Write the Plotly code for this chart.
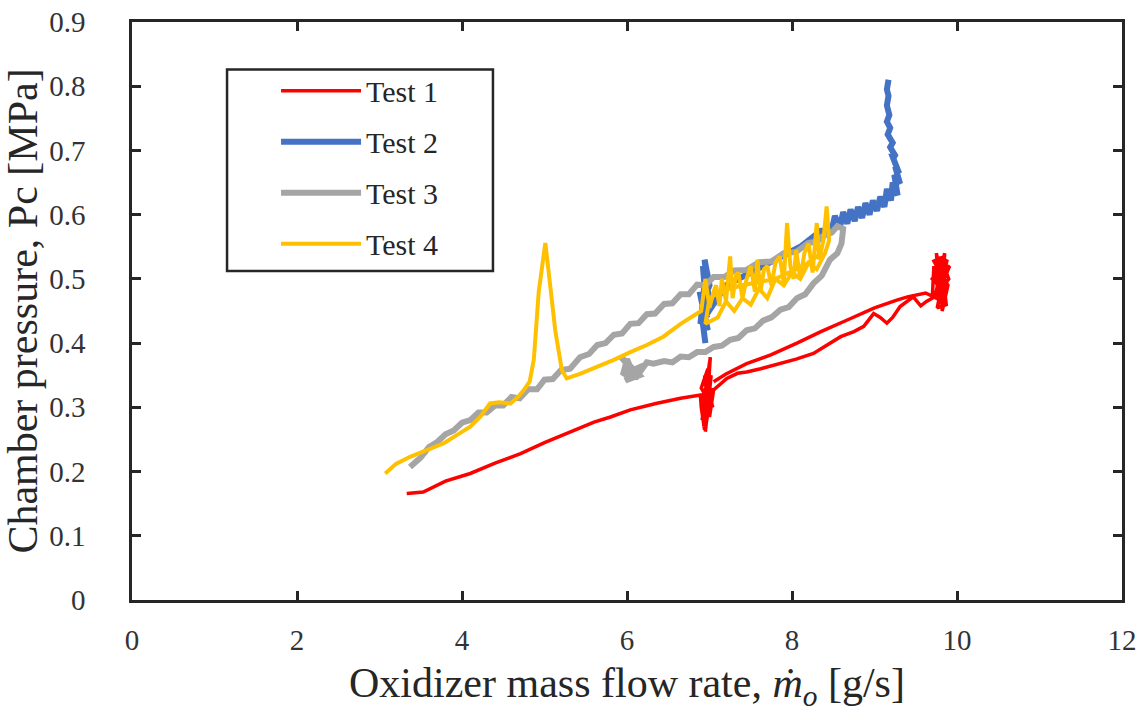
import plotly.graph_objects as go

# ---------------- data ----------------
t1_x = [3.33, 3.53, 3.80, 4.10, 4.40, 4.71, 5.00, 5.31, 5.60, 5.80, 6.04, 6.35, 6.65, 6.89,
        6.90, 6.94, 6.97, 6.91, 7.00, 6.93, 6.99, 6.89, 7.02, 6.95, 7.01, 6.92, 7.03, 6.96,
        6.98, 6.90, 7.04, 6.94, 7.00, 7.05,
        7.21, 7.34, 7.45, 7.62, 7.86, 8.05, 8.26, 8.40, 8.59, 8.75, 8.87, 8.99, 9.07, 9.15,
        9.22, 9.31, 9.40, 9.47, 9.56, 9.63, 9.70,
        9.72, 9.80, 9.75, 9.85, 9.70, 9.88, 9.76, 9.87, 9.80, 9.90, 9.73, 9.85, 9.82, 9.89,
        9.71, 9.84, 9.78, 9.91, 9.74, 9.86, 9.79, 9.83,
        9.62, 9.40, 9.27, 9.00, 8.67, 8.35, 8.06, 7.75, 7.45, 7.20, 7.05]
t1_y = [0.166, 0.168, 0.185, 0.197, 0.213, 0.228, 0.245, 0.262, 0.277, 0.285, 0.296, 0.306, 0.314, 0.319,
        0.300, 0.265, 0.340, 0.280, 0.370, 0.270, 0.320, 0.310, 0.350, 0.262, 0.378, 0.290, 0.330, 0.275,
        0.360, 0.330, 0.300, 0.350, 0.285, 0.327,
        0.345, 0.353, 0.355, 0.360, 0.368, 0.375, 0.384, 0.395, 0.410, 0.418, 0.426, 0.446, 0.440, 0.431,
        0.440, 0.457, 0.466, 0.472, 0.458, 0.465, 0.470,
        0.520, 0.460, 0.540, 0.480, 0.500, 0.530, 0.455, 0.460, 0.535, 0.500, 0.470, 0.540, 0.450, 0.490,
        0.530, 0.500, 0.480, 0.520, 0.510, 0.470, 0.520, 0.465,
        0.478, 0.472, 0.467, 0.455, 0.436, 0.418, 0.400, 0.382, 0.368, 0.352, 0.340]

t2_x = [6.95, 6.90, 6.98, 6.88, 6.97, 6.92, 6.99, 6.94, 7.00, 6.91, 6.96, 6.89,
        7.20, 7.50, 7.80, 8.10, 8.35,
        8.48, 8.52, 8.58, 8.62, 8.67, 8.71, 8.76, 8.80, 8.85, 8.89, 8.94, 8.98, 9.03, 9.07,
        9.12, 9.15, 9.20, 9.22, 9.28, 9.24, 9.31, 9.25, 9.30, 9.22, 9.26, 9.19, 9.22, 9.16,
        9.19, 9.15, 9.18, 9.15, 9.17, 9.15, 9.17]
t2_y = [0.400, 0.450, 0.420, 0.480, 0.440, 0.520, 0.470, 0.530, 0.490, 0.460, 0.510, 0.430,
        0.490, 0.510, 0.530, 0.550, 0.575,
        0.575, 0.598, 0.580, 0.604, 0.586, 0.608, 0.590, 0.612, 0.595, 0.618, 0.600, 0.622, 0.606, 0.628,
        0.612, 0.640, 0.622, 0.650, 0.630, 0.662, 0.648, 0.675, 0.664, 0.690, 0.690, 0.705, 0.712, 0.725,
        0.735, 0.745, 0.755, 0.770, 0.785, 0.795, 0.810]

t3_x = [3.37, 3.50, 3.60, 3.70, 3.80, 3.90, 4.00, 4.10, 4.20, 4.30, 4.40, 4.50, 4.60, 4.70,
        4.80, 4.91, 5.00, 5.10, 5.20, 5.31, 5.43, 5.54, 5.64, 5.74, 5.84, 5.94, 6.04, 6.14,
        6.24, 6.34, 6.45, 6.55, 6.65, 6.75, 6.85, 6.95, 7.05, 7.18, 7.30, 7.45, 7.60, 7.75,
        7.90, 8.05, 8.20, 8.30, 8.40, 8.48, 8.55, 8.62, 8.60, 8.55,
        8.46, 8.36, 8.26, 8.16, 8.06, 7.96, 7.86, 7.75, 7.65, 7.55, 7.45, 7.35, 7.25, 7.15,
        7.05, 6.95, 6.85, 6.75, 6.65, 6.55, 6.45, 6.32,
        6.24, 6.10, 6.00, 5.95, 6.05, 5.93, 6.15, 5.98, 6.20, 6.02]
t3_y = [0.207, 0.222, 0.238, 0.246, 0.258, 0.264, 0.276, 0.280, 0.292, 0.292, 0.303, 0.303, 0.316, 0.314,
        0.328, 0.328, 0.343, 0.344, 0.358, 0.360, 0.378, 0.383, 0.397, 0.400, 0.413, 0.415, 0.430, 0.431,
        0.445, 0.446, 0.461, 0.462, 0.476, 0.476, 0.491, 0.490, 0.503, 0.503, 0.513, 0.514, 0.526, 0.527,
        0.540, 0.542, 0.556, 0.558, 0.568, 0.572, 0.582, 0.578, 0.555, 0.540,
        0.530, 0.505, 0.493, 0.476, 0.470, 0.456, 0.452, 0.440, 0.435, 0.423, 0.420, 0.408, 0.405, 0.396,
        0.394, 0.386, 0.386, 0.378, 0.379, 0.370, 0.372, 0.368,
        0.370, 0.345, 0.375, 0.350, 0.360, 0.378, 0.350, 0.342, 0.365, 0.355]

t4_x = [3.07, 3.20, 3.37, 3.55, 3.78, 3.95, 4.10, 4.22, 4.34, 4.45, 4.59, 4.67, 4.75, 4.82,
        4.87, 4.93, 5.01, 5.06, 5.13, 5.21, 5.27, 5.43, 5.64, 5.84, 6.04, 6.24, 6.44, 6.65, 6.85,
        6.90, 6.95, 7.00, 7.05, 7.08, 7.12, 7.15, 7.20, 7.25, 7.28, 7.32, 7.35, 7.40, 7.45, 7.50,
        7.55, 7.58, 7.62, 7.66, 7.70, 7.75, 7.80, 7.85, 7.90, 7.94, 7.98, 8.02, 8.05, 8.10, 8.15,
        8.20, 8.25, 8.30, 8.33, 8.38, 8.42, 8.45, 8.40,
        8.30, 8.20, 8.10, 8.00, 7.90, 7.80, 7.70, 7.60, 7.50, 7.40, 7.30, 7.20, 7.10, 6.95,
        7.00, 7.10, 7.25, 7.40, 7.60, 7.80, 8.00, 8.20, 8.35]
t4_y = [0.197, 0.212, 0.223, 0.232, 0.244, 0.258, 0.270, 0.285, 0.306, 0.308, 0.306, 0.315, 0.327, 0.340,
        0.374, 0.480, 0.556, 0.500, 0.420, 0.358, 0.345, 0.352, 0.363, 0.374, 0.386, 0.397, 0.410, 0.430, 0.446,
        0.450, 0.500, 0.455, 0.480, 0.490, 0.458, 0.500, 0.465, 0.535, 0.470, 0.505, 0.510, 0.470, 0.500,
        0.520, 0.480, 0.530, 0.480, 0.515, 0.520, 0.490, 0.525, 0.535, 0.495, 0.587, 0.520, 0.500,
        0.545, 0.500, 0.540, 0.555, 0.510, 0.587, 0.530, 0.560, 0.613, 0.560, 0.540,
        0.515, 0.525, 0.500, 0.510, 0.490, 0.500, 0.470, 0.485, 0.460, 0.470, 0.450, 0.465, 0.440, 0.430,
        0.470, 0.478, 0.485, 0.490, 0.495, 0.500, 0.512, 0.525, 0.540]

names = ["Test 1", "Test 2", "Test 3", "Test 4"]
colors = ["#FF0000", "#4472C4", "#A5A5A5", "#FFC000"]
widths = [3.5, 6, 6, 4]

x_ticks = [0, 2, 4, 6, 8, 10, 12]
y_ticks = [0, 0.1, 0.2, 0.3, 0.4, 0.5, 0.6, 0.7, 0.8, 0.9]
y_tick_text = ["0", "0.1", "0.2", "0.3", "0.4", "0.5", "0.6", "0.7", "0.8", "0.9"]

series = [(t1_x, t1_y), (t2_x, t2_y), (t3_x, t3_y), (t4_x, t4_y)]

# ---------------- figure ----------------
fig = go.Figure()
for (xs, ys), nm, c, w in zip(series, names, colors, widths):
    fig.add_trace(go.Scatter(x=xs, y=ys, mode="lines", name=nm, legendgroup=nm,
                             line=dict(color=c, width=w, shape="linear")))

FONT = "Liberation Serif, Times New Roman, serif"
axis_common = dict(
    showgrid=False, zeroline=False, showline=True, linecolor="#262626", linewidth=2.5,
    mirror="ticks", ticks="inside", ticklen=9, tickwidth=2.5, tickcolor="#262626",
    tickfont=dict(family=FONT, size=29, color="#333333"),
)
fig.update_xaxes(range=[0, 12], tickvals=x_ticks, ticklabelstandoff=12,
                 title=dict(text="Oxidizer mass flow rate, <i>ṁ</i><sub><i>o</i></sub> [g/s]",
                            font=dict(family=FONT, size=42, color="#262626"), standoff=14),
                 **axis_common)
fig.update_yaxes(range=[0, 0.9], tickvals=y_ticks, ticktext=y_tick_text, ticklabelstandoff=38,
                 title=dict(text="Chamber pressure, Pc [MPa]",
                            font=dict(family=FONT, size=42, color="#262626"), standoff=0),
                 **axis_common)

# legend frame (box drawn behind the native legend, in paper coordinates)
fig.add_shape(type="rect", xref="paper", yref="paper",
              x0=0.096, x1=0.3646, y0=0.5693, y1=0.9177,
              line=dict(color="#262626", width=2.5), fillcolor="white", layer="below")

fig.update_layout(
    width=1140, height=715,
    margin=dict(l=132, r=18, t=22, b=115, autoexpand=False),
    paper_bgcolor="white", plot_bgcolor="white",
    showlegend=True,
    legend=dict(x=0.1455, y=0.926, xanchor="left", yanchor="top",
                bgcolor="rgba(0,0,0,0)", borderwidth=0,
                font=dict(family=FONT, size=30, color="#262626"),
                itemwidth=80, tracegroupgap=9, traceorder="grouped"),
)

fig.write_html("out.html")
